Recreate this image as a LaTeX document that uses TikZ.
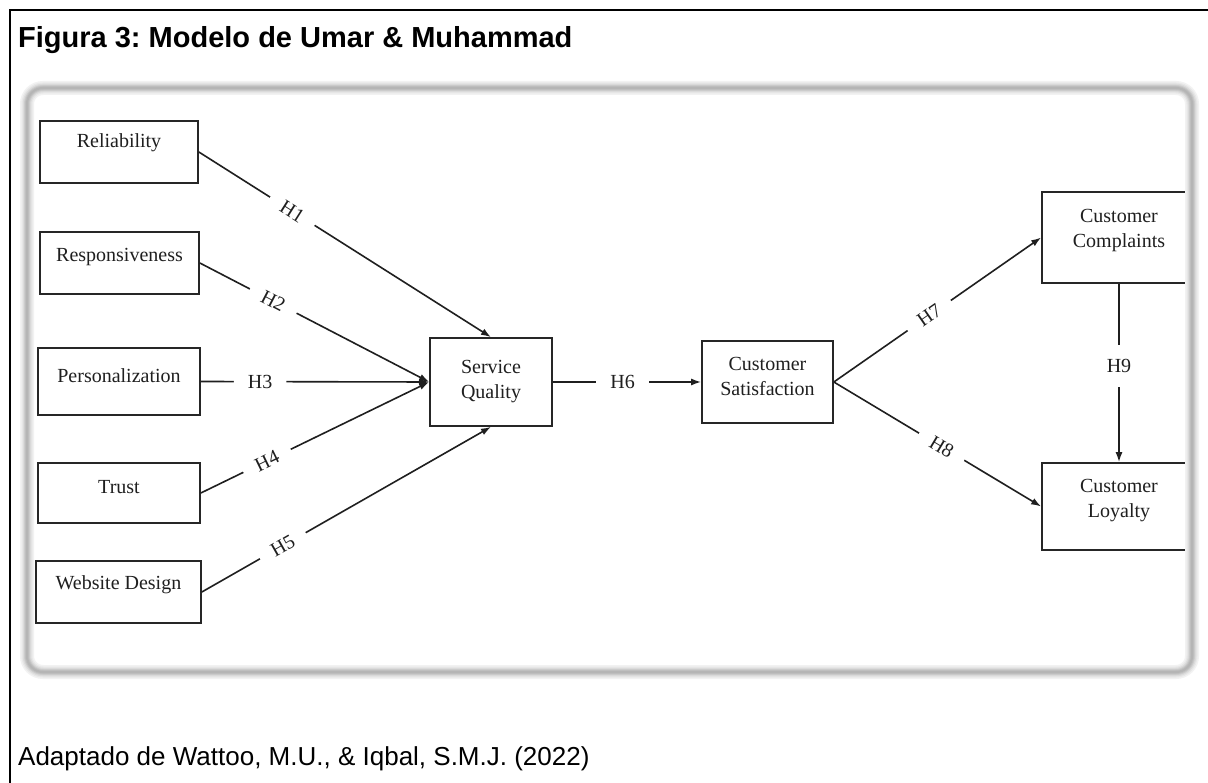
\documentclass[tikz,border=0pt]{standalone}
\usepackage{fontspec}
\setmainfont{Liberation Serif}
\newfontfamily\arialfont{Liberation Sans}
\usetikzlibrary{arrows.meta}
\frenchspacing

\begin{document}
\begin{tikzpicture}[x=1pt,y=-1pt,
  cbox/.style={draw=black!85, line width=1.7pt, inner sep=0pt},
  txt/.style={font=\fontsize{20}{25}\selectfont, text=black!88, align=center},
  conn/.style={draw=black!88, line width=1.6pt, -{Latex[length=10pt,width=7pt]}},
  hyp/.style={font=\fontsize{20}{24}\selectfont, text=black!88, fill=white,
              inner xsep=14pt, inner ysep=0pt, sloped}
]
% page and its bounds
\fill[white] (0,0) rectangle (1208,783);
\useasboundingbox (0,0) rectangle (1208,783);

% outer frame (top and left rules)
\draw[line width=2.6pt, black] (1210,10) -- (10,10) -- (10,790);

% title and source line
\node[anchor=base west, font=\arialfont\bfseries\fontsize{29}{34}\selectfont, inner sep=0pt]
  (title) at (18,48) {Figura 3: Modelo de Umar \& Muhammad};
\node[anchor=base west, font=\arialfont\fontsize{26}{30}\selectfont, inner sep=0pt]
  (source) at (18,765) {Adaptado de Wattoo, M.U., \& Iqbal, S.M.J. (2022)};

% construct boxes
\node[cbox, minimum width=158pt, minimum height=62pt,
      label={[txt, yshift=9pt]center:Reliability}] (rel) at (119,152) {};
\node[cbox, minimum width=159pt, minimum height=62pt,
      label={[txt, yshift=6pt]center:Responsiveness}] (res) at (119.5,263) {};
\node[cbox, minimum width=162pt, minimum height=67pt,
      label={[txt, yshift=6pt]center:Personalization}] (per) at (119,381.5) {};
\node[cbox, minimum width=162pt, minimum height=60pt,
      label={[txt, yshift=6pt]center:Trust}] (tru) at (119,493) {};
\node[cbox, minimum width=165pt, minimum height=62pt,
      label={[txt, yshift=7pt]center:Website Design}] (web) at (118.5,592) {};

\node[cbox, minimum width=122pt, minimum height=88pt,
      label={[txt]center:Service\\Quality}] (sq) at (491,382) {};
\node[cbox, minimum width=131pt, minimum height=82pt,
      label={[txt, yshift=6pt]center:Customer\\Satisfaction}] (cs) at (767.5,382) {};
\node[cbox, minimum width=154pt, minimum height=91pt,
      label={[txt, yshift=7pt]center:Customer\\Complaints}] (cc) at (1119,237.5) {};
\node[cbox, minimum width=154pt, minimum height=87pt,
      label={[txt, yshift=6pt]center:Customer\\Loyalty}] (cl) at (1119,506.5) {};

% hypotheses
\draw[conn] (rel.east) -- node[hyp, pos=0.32] {H1} (sq.north);
\draw[conn] (res.east) -- node[hyp, pos=0.32] {H2} (sq.west);
\draw[conn] (per.east) -- node[hyp, pos=0.26] {H3} (sq.west);
\draw[conn] (tru.east) -- node[hyp, pos=0.29] {H4} (sq.west);
\draw[conn] (web.east) -- node[hyp, pos=0.28] {H5} (sq.south);
\draw[conn] (sq.east) -- node[hyp, pos=0.47] {H6} (cs.west);
\draw[conn] (cs.east) -- node[hyp, pos=0.46] {H7} (cc.west);
\draw[conn] (cs.east) -- node[hyp, pos=0.52] {H8} (cl.west);
\draw[conn] (cc.south) -- node[hyp, pos=0.46, sloped=false, inner xsep=2pt, inner ysep=14pt] {H9} (cl.north);

% soft shadowed frame around the model
\foreach \w/\c in {14/5, 11/9, 8.5/14, 6/20, 4/25, 2/29}
  \draw[line width=\w pt, black!\c, rounded corners=16pt] (27,88) rectangle (1192,672);
\end{tikzpicture}
\end{document}
